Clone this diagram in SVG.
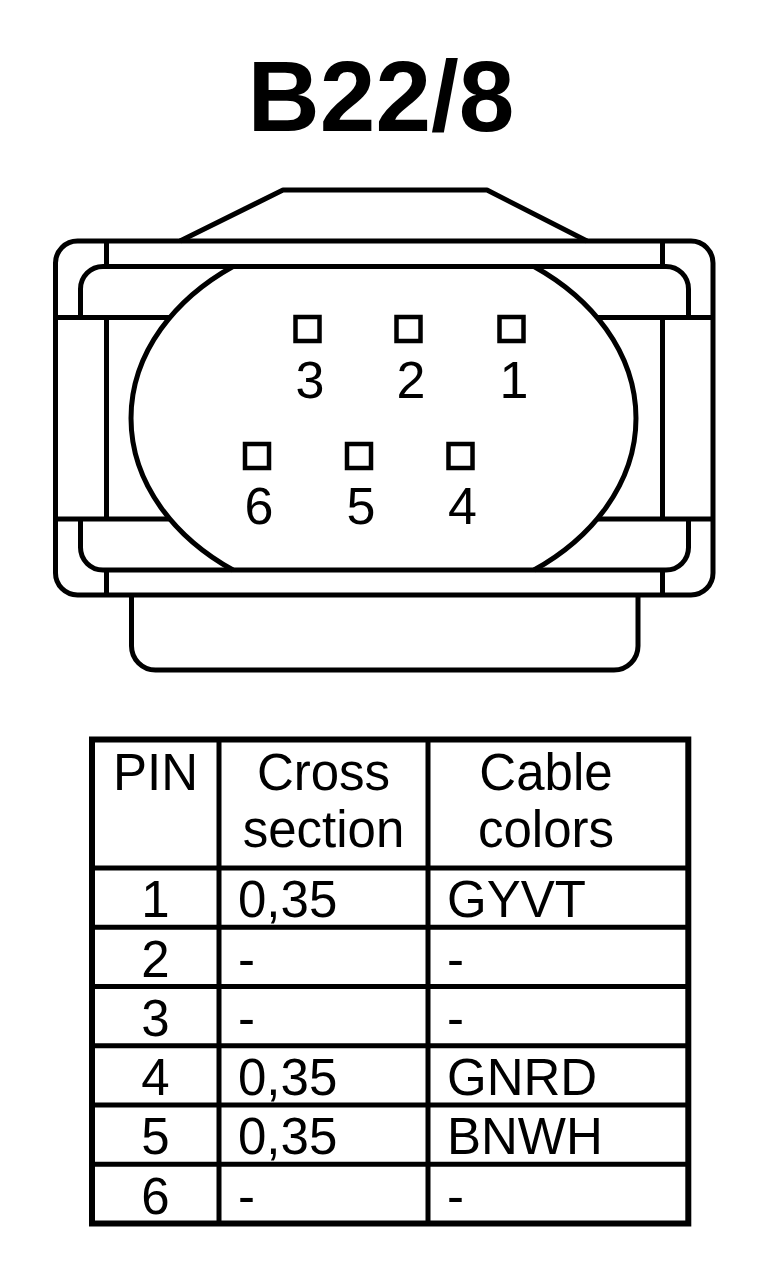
<svg xmlns="http://www.w3.org/2000/svg" width="768" height="1264" viewBox="0 0 768 1264">
<style>
.ln{fill:none;stroke:#000;stroke-width:5;stroke-linejoin:round}
.pin{fill:#fff;stroke:#000;stroke-width:4.5}
.lbl{font-family:"Liberation Sans",Arial,sans-serif;font-size:52px;fill:#000;text-anchor:middle}
.tt{font-family:"Liberation Sans",Arial,sans-serif;font-size:51px;fill:#000}
.c{text-anchor:middle}
.tl{fill:none;stroke:#000;stroke-width:5}
</style>
<rect width="768" height="1264" fill="#fff"/>
<text id="title" x="381" y="131" font-family="Liberation Sans, Arial, sans-serif" font-weight="bold" font-size="100" text-anchor="middle">B22/8</text>
<g id="connector">
  <polyline class="ln" points="180,241 283,190 487,190 587,241"/>
  <rect class="ln" x="55.5" y="241" width="657.5" height="354" rx="22"/>
  <path class="ln" d="M80.5,317.5 V289 A22.5,22.5 0 0 1 103,266.5 H666 A22.5,22.5 0 0 1 688.5,289 V317.5 M80.5,519 V547.5 A22.5,22.5 0 0 0 103,570 H666 A22.5,22.5 0 0 0 688.5,547.5 V519"/>
  <path class="ln" d="M106.5,241 V266.5 M106.5,317.5 V519 M106.5,570 V595 M662.5,241 V266.5 M662.5,317.5 V519 M662.5,570 V595"/>
  <path class="ln" d="M55.5,317.5 H170 M597,317.5 H713 M55.5,519 H170 M597,519 H713"/>
  <path class="ln" d="M233,266.5 A252.5,189 0 0 0 233,570 M534,266.5 A252.5,189 0 0 1 534,570"/>
  <path class="ln" d="M131.5,595 V646 A24,24 0 0 0 155.5,670 H614 A24,24 0 0 0 638,646 V595"/>
</g>
<g id="pins">
  <g id="pin3"><rect class="pin" x="295.5" y="317" width="24" height="24"/><text class="lbl" x="310" y="398">3</text></g>
  <g id="pin2"><rect class="pin" x="396.5" y="317" width="24" height="24"/><text class="lbl" x="411" y="398">2</text></g>
  <g id="pin1"><rect class="pin" x="499.5" y="317" width="24" height="24"/><text class="lbl" x="514" y="398">1</text></g>
  <g id="pin6"><rect class="pin" x="245" y="444" width="24" height="24"/><text class="lbl" x="259" y="524">6</text></g>
  <g id="pin5"><rect class="pin" x="347" y="444" width="24" height="24"/><text class="lbl" x="361" y="524">5</text></g>
  <g id="pin4"><rect class="pin" x="448.5" y="444" width="24" height="24"/><text class="lbl" x="462.5" y="524">4</text></g>
</g>
<g id="table">
  <rect x="92" y="739.5" width="596.3" height="484" fill="none" stroke="#000" stroke-width="6"/>
  <path class="tl" d="M219,739.5 V1223.5 M428,739.5 V1223.5 M92,868 H688.3 M92,927.25 H688.3 M92,986.5 H688.3 M92,1045.75 H688.3 M92,1105 H688.3 M92,1164.25 H688.3"/>
  <text class="tt c" x="155.5" y="790">PIN</text>
  <text class="tt c" x="323.5" y="790">Cross</text>
  <text class="tt c" x="323.5" y="847">section</text>
  <text class="tt c" x="546" y="790">Cable</text>
  <text class="tt c" x="546" y="847">colors</text>
  <text class="tt c" x="155.5" y="917">1</text><text class="tt" x="238" y="917">0,35</text><text class="tt" x="447" y="917">GYVT</text>
  <text class="tt c" x="155.5" y="976.5">2</text><text class="tt" x="238" y="976.5">-</text><text class="tt" x="447" y="976.5">-</text>
  <text class="tt c" x="155.5" y="1035.75">3</text><text class="tt" x="238" y="1035.75">-</text><text class="tt" x="447" y="1035.75">-</text>
  <text class="tt c" x="155.5" y="1095">4</text><text class="tt" x="238" y="1095">0,35</text><text class="tt" x="447" y="1095">GNRD</text>
  <text class="tt c" x="155.5" y="1154.25">5</text><text class="tt" x="238" y="1154.25">0,35</text><text class="tt" x="447" y="1154.25">BNWH</text>
  <text class="tt c" x="155.5" y="1213.5">6</text><text class="tt" x="238" y="1213.5">-</text><text class="tt" x="447" y="1213.5">-</text>
</g>
</svg>
